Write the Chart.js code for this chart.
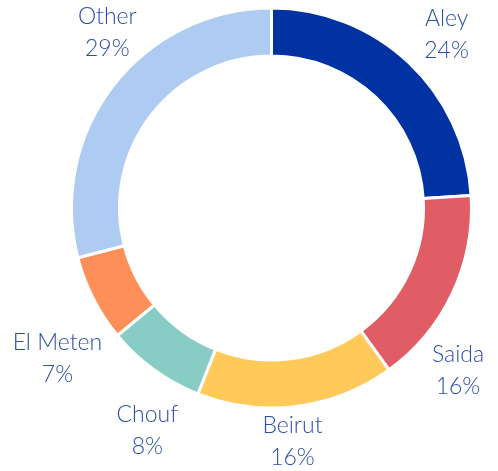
<!DOCTYPE html>
<html>
<head>
<meta charset="utf-8">
<script src="https://cdn.jsdelivr.net/npm/chart.js@4.4.1/dist/chart.umd.min.js"></script>
<style>
  html, body { margin: 0; padding: 0; background: #fff; }
  #wrap { width: 498px; height: 471px; }
</style>
</head>
<body>
<div id="wrap"><canvas id="chart"></canvas></div>
<script>
const districts = ["Aley", "Saida", "Beirut", "Chouf", "El Meten", "Other"];
const shares = [24, 16, 16, 8, 7, 29];
const sliceColors = ["#0033a1", "#e05d65", "#ffca5a", "#88cdc5", "#ff8f58", "#aecbf1"];

// label nudges from the plain radial spot, to sit like the original
const labelNudge = [[6, 7], [-37, 57], [-10, -11], [21, 23], [6, 38], [31, -24]];

const outsideLabels = {
  id: "outsideLabels",
  afterDatasetsDraw(chart) {
    const { ctx } = chart;
    const meta = chart.getDatasetMeta(0);
    ctx.save();
    ctx.font = "300 23px Lato";
    ctx.fillStyle = "#2b4ea6";
    ctx.textAlign = "center";
    ctx.textBaseline = "middle";
    meta.data.forEach((arc, i) => {
      const mid = (arc.startAngle + arc.endAngle) / 2;
      const r = arc.outerRadius + 47;
      const x = arc.x + Math.cos(mid) * r + labelNudge[i][0];
      const y = arc.y + Math.sin(mid) * r + labelNudge[i][1];
      ctx.fillText(districts[i], x, y - 16);
      ctx.fillText(shares[i] + "%", x, y + 16);
    });
    ctx.restore();
  },
};

new Chart(document.getElementById("chart"), {
  type: "doughnut",
  data: {
    labels: districts,
    datasets: [{
      data: shares,
      backgroundColor: sliceColors,
      borderColor: "#ffffff",
      borderWidth: 3,
    }],
  },
  options: {
    responsive: true,
    maintainAspectRatio: false,
    animation: false,
    cutout: "76%",
    layout: { padding: { left: 70, right: 25, top: 6, bottom: 61 } },
    plugins: {
      legend: { display: false },
      tooltip: { enabled: false },
    },
  },
  plugins: [outsideLabels],
});
</script>
</body>
</html>
